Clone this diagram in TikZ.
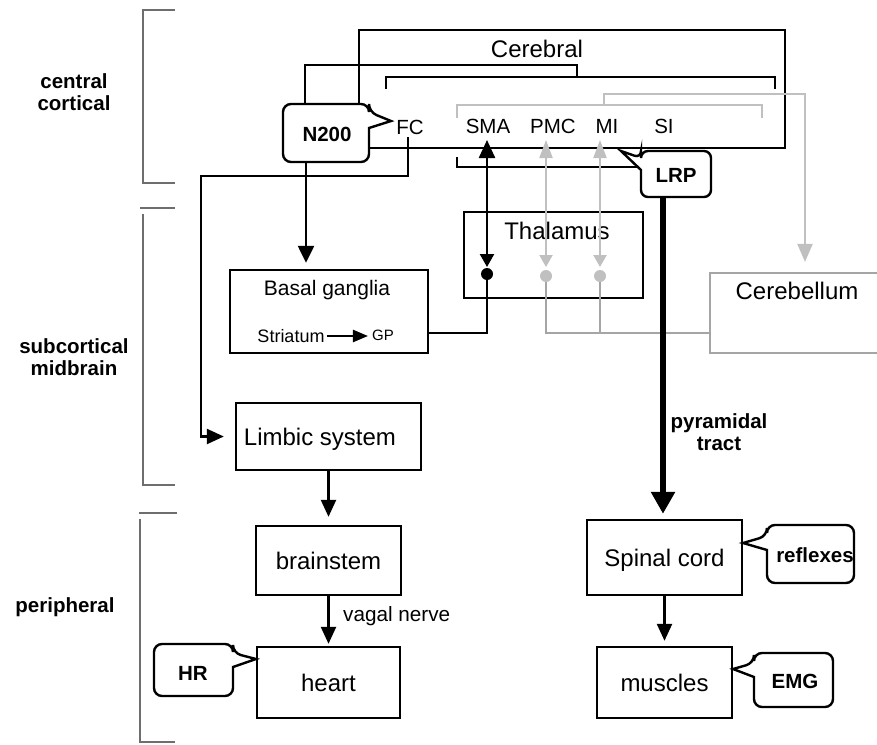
\documentclass[tikz,border=0pt]{standalone}
\usepackage{fontspec}
\setmainfont{Liberation Sans}
\usetikzlibrary{arrows.meta}
\definecolor{lgray}{RGB}{192,192,192}
\definecolor{mgray}{RGB}{165,165,165}
\definecolor{bgray}{RGB}{110,110,110}
\tikzset{
  box/.style={draw=black, line width=2.4pt, rectangle, inner sep=0pt},
  gbox/.style={draw=mgray, line width=2.2pt, rectangle, inner sep=0pt},
  conn/.style={draw=black, line width=2.4pt},
  gconn/.style={draw=lgray, line width=2.2pt},
  gconnb/.style={draw=mgray, line width=2.2pt},
  brk/.style={draw=bgray, line width=1.3pt},
  callout/.style={draw=black, line width=2.4pt, fill=white, line join=miter},
  mtxt/.style={font=\fontsize{24}{28}\selectfont, inner sep=0pt, text depth=0pt},
  stxt/.style={font=\fontsize{20.5}{24}\selectfont, inner sep=0pt, text depth=0pt},
  btxt/.style={font=\bfseries\fontsize{20.5}{22}\selectfont, inner sep=0pt, align=center, text depth=0pt},
  atip/.style={-{Triangle[length=17pt,width=15pt]}},
}
\begin{document}
\begin{tikzpicture}[x=1pt,y=-1pt]
\useasboundingbox (0,0) rectangle (877,744);

% region brackets
\draw[brk] (175,10) -- (143,10) -- (143,183) -- (175,183);
\draw[brk] (140,208) -- (175,208);
\draw[brk] (143,214) -- (143,485) -- (175,485);
\draw[brk] (139,513) -- (177,513);
\draw[brk] (140,519) -- (140,742) -- (175,742);

\node[btxt] (lcc) at (74,92.5) {central\\cortical};
\node[btxt] (lsm) at (74,357) {subcortical\\midbrain};
\node[btxt] (lpe) at (65,605) {peripheral};

% boxes
\node[box, minimum width=426pt, minimum height=118pt] (cer) at (572,89) {};
\node[mtxt] (certx) at (537,49) {Cerebral};
\node[box, minimum width=179pt, minimum height=86pt] (thal) at (553.5,255) {};
\node[mtxt] (thaltx) at (557,231) {Thalamus};
\node[box, minimum width=198pt, minimum height=83pt] (bg) at (329,311.5) {};
\node[font=\fontsize{21}{24}\selectfont, inner sep=0pt, text depth=0pt] (bgtx) at (327,288) {Basal ganglia};
\node[font=\fontsize{18}{20}\selectfont, inner sep=0pt, text depth=0pt] (str) at (291,336) {Striatum};
\node[font=\fontsize{15}{18}\selectfont, inner sep=0pt, text depth=0pt] (gp) at (383,335) {GP};
\node[gbox, minimum width=190pt, minimum height=80pt] (cbl) at (805,313) {};
\node[mtxt] (cbltx) at (797,291) {Cerebellum};
\node[box, minimum width=185pt, minimum height=67pt] (lim) at (328.5,436.5) {};
\node[mtxt] (limtx) at (320,437) {Limbic system};
\node[box, mtxt, minimum width=145pt, minimum height=69pt] (brain) at (328.5,560.5) {brainstem};
\node[box, mtxt, minimum width=143pt, minimum height=71pt] (heart) at (328.5,682.5) {heart};
\node[box, mtxt, minimum width=155pt, minimum height=75pt] (spinal) at (664.5,557.5) {Spinal cord};
\node[box, mtxt, minimum width=135pt, minimum height=71pt] (musc) at (664.5,682.5) {muscles};

% cortical areas
\node[stxt] (fc) at (410,127) {FC};
\node[stxt] (sma) at (488,126) {SMA};
\node[stxt] (pmc) at (553,126) {PMC};
\node[stxt] (mi) at (607,126) {MI};
\node[stxt] (si) at (664,126) {SI};

% brackets in the cortex
\draw[conn] (386,89) -- (386,77) -- (775,77) -- (775,89);
\draw[gconn] (457,118) -- (457,105) -- (762,105) -- (762,118);
\draw[conn] (457,157) -- (457,167) -- (645,167);

% N200 to cerebral bracket
\coordinate (n200top) at (305,104);
\coordinate (n200bot) at (306,162);
\coordinate (n200a) at (305,65);
\coordinate (n200b) at (577,65);
\coordinate (n200c) at (577,77);
\draw[conn] (n200top) -- (n200a) -- (n200b) -- (n200c);

% MI bracket to cerebellum
\coordinate (mia) at (604,105);
\coordinate (mib) at (604,94);
\coordinate (mic) at (805,94);
\draw[gconn, -{Triangle[length=18pt,width=15pt]}, shorten >=10pt] (mia) -- (mib) -- (mic) -- (cbl.north);

% FC to limbic
\coordinate (fcbot) at (408,137);
\coordinate (fc1) at (408,176);
\coordinate (fc2) at (201,176);
\draw[conn, atip, shorten >=11pt] (fcbot) -- (fc1) -- (fc2) -- (fc2 |- lim.west) -- (lim.west);

% N200 to basal ganglia
\draw[conn, -{Triangle[length=17pt,width=16pt]}, shorten >=6pt] (n200bot) -- (n200bot |- bg.north);

% striatum -> GP
\draw[conn, -{Triangle[length=15pt,width=12pt]}, shorten <=2pt, shorten >=4pt] (str.east) -- (str.east -| gp.west);

% SMA <-> thalamus
\coordinate (smaup) at (487,140);
\coordinate (smadot) at (487,274);
\coordinate (smaturn) at (487,333);
\draw[conn, {Triangle[length=18pt,width=16pt]}-{Triangle[length=13pt,width=14pt]}, shorten >=7pt] (smaup) -- (smadot);
\fill (smadot) circle (6pt);
\draw[conn] (smadot) -- (smaturn) -- (smaturn -| bg.east);

% PMC, MI <-> thalamus, cerebellum
\coordinate (pmcup) at (546,140);
\coordinate (pmcdot) at (546,276);
\coordinate (pmcturn) at (546,333);
\coordinate (miup) at (600,140);
\coordinate (midot) at (600,276);
\coordinate (miturn) at (600,333);
\draw[gconnb] (pmcdot) -- (pmcturn) -- (pmcturn -| cbl.west);
\draw[gconnb] (midot) -- (miturn);
\draw[gconn, {Triangle[length=18pt,width=13pt]}-{Triangle[length=12pt,width=13pt]}, shorten >=9pt] (pmcup) -- (pmcdot);
\draw[gconn, {Triangle[length=18pt,width=13pt]}-{Triangle[length=12pt,width=13pt]}, shorten >=9pt] (miup) -- (midot);
\fill[lgray] (pmcdot) circle (6pt);
\fill[lgray] (midot) circle (6pt);

% pyramidal tract
\coordinate (lrpbot) at (663,197);
\draw[line width=5.5pt, -{Triangle[length=22pt,width=23pt]}, shorten >=5pt] (lrpbot) -- (lrpbot |- spinal.north);
\node[btxt] (pyr) at (719,432.5) {pyramidal\\tract};

% lower chain
\draw[conn, atip, shorten >=8pt] (lim.south) -- (brain.north);
\draw[conn, atip, shorten >=2pt] (brain.south) -- (heart.north);
\node[font=\fontsize{20.7}{24}\selectfont, inner sep=0pt, text depth=0pt, anchor=west] (vagal) at (343,614) {vagal nerve};
\draw[conn, atip, shorten >=5pt] (spinal.south) -- (musc.north);

% callouts
\draw[callout] (369,128) [rounded corners=8pt] -- (369,162) -- (283,162) -- (283,104) -- (369,104) -- (369,112) [sharp corners] -- (391,121) -- cycle;
\node[btxt] (n200) at (327,134) {N200};

\draw[callout] (641,170) [rounded corners=7pt] -- (641,197) -- (711,197) -- (711,151) -- (641,151) -- (641,158) [sharp corners] -- (621,151) -- cycle;
\node[btxt] (lrp) at (676,175) {LRP};

\draw[callout] (233,667) [rounded corners=8pt] -- (233,696) -- (154,696) -- (154,644) -- (233,644) -- (233,653) [sharp corners] -- (256,659) -- cycle;
\node[btxt] (hr) at (193,673) {HR};

\draw[callout] (767,550) [rounded corners=8pt] -- (767,583) -- (854,583) -- (854,525) -- (767,525) -- (767,536) [sharp corners] -- (743,543) -- cycle;
\node[btxt] (refl) at (815,555) {reflexes};

\draw[callout] (754,677) [rounded corners=8pt] -- (754,707) -- (833,707) -- (833,653) -- (754,653) -- (754,663) [sharp corners] -- (733,669) -- cycle;
\node[btxt] (emg) at (795,681) {EMG};

\end{tikzpicture}
\end{document}
